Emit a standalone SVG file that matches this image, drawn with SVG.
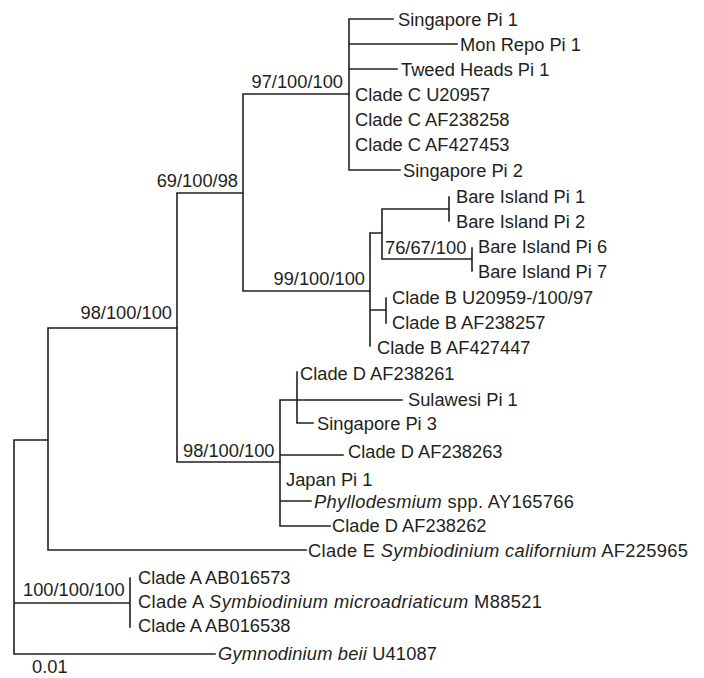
<svg xmlns="http://www.w3.org/2000/svg" width="704" height="678" viewBox="0 0 704 678">
<style>
.e{stroke:#231f20;stroke-width:1.6;fill:none;stroke-linecap:square}
text{font-family:"Liberation Sans",Arial,sans-serif;font-size:18.3px;fill:#231f20}
.s{text-anchor:end}
.i{font-style:italic}
</style>
<rect width="704" height="678" fill="#fff"/>
<g id="connectors">
<path class="e" d="M14 440V654M14 440H48M48 328V550M48 328H177M48 550H306M14 603H130M130 578V627M14 654H215"/>
<path class="e" d="M177 193V462M177 193H243M177 462H280M243 94V291M243 94H349M243 291H370"/>
<path class="e" d="M349 19V170M349 19H393M349 44H457M349 69H397M349 170H400"/>
<path class="e" d="M370 233V346M370 233H382M382 209V259M382 209H449M449 197V221M382 259H472M472 248V271M370 310H386M386 298V323"/>
<path class="e" d="M280 400V526M280 400H402M297 372V423M297 423H313M280 455H343M280 501H311M280 526H330"/>
</g>
<g id="support">
<text class="s" x="343" y="88">97/100/100</text>
<text class="s" x="238" y="187">69/100/98</text>
<text class="s" x="172" y="319">98/100/100</text>
<text class="s" x="365" y="285">99/100/100</text>
<text x="385" y="254">76/67/100</text>
<text x="183" y="457">98/100/100</text>
<text x="23" y="596">100/100/100</text>
<text x="32" y="673">0.01</text>
</g>
<g id="tip-singapore-pi1"><text x="398" y="25.5">Singapore Pi 1</text></g>
<g id="tip-monrepo-pi1"><text x="460" y="50.5">Mon Repo Pi 1</text></g>
<g id="tip-tweed-pi1"><text x="401" y="75.5">Tweed Heads Pi 1</text></g>
<g id="tip-cladec-u20957"><text x="355" y="100.5">Clade C U20957</text></g>
<g id="tip-cladec-af238258"><text x="355" y="125.5">Clade C AF238258</text></g>
<g id="tip-cladec-af427453"><text x="355" y="150.5">Clade C AF427453</text></g>
<g id="tip-singapore-pi2"><text x="403" y="176.5">Singapore Pi 2</text></g>
<g id="tip-bare-pi1"><text x="456" y="202.5">Bare Island Pi 1</text></g>
<g id="tip-bare-pi2"><text x="456" y="227.5">Bare Island Pi 2</text></g>
<g id="tip-bare-pi6"><text x="478" y="252.5">Bare Island Pi 6</text></g>
<g id="tip-bare-pi7"><text x="478" y="277.5">Bare Island Pi 7</text></g>
<g id="tip-cladeb-u20959"><text x="392" y="303.5">Clade B U20959-/100/97</text></g>
<g id="tip-cladeb-af238257"><text x="392" y="328.5">Clade B AF238257</text></g>
<g id="tip-cladeb-af427447"><text x="377" y="353.5">Clade B AF427447</text></g>
<g id="tip-claded-af238261"><text x="300" y="379.5">Clade D AF238261</text></g>
<g id="tip-sulawesi-pi1"><text x="408" y="405.5">Sulawesi Pi 1</text></g>
<g id="tip-singapore-pi3"><text x="317" y="429.5">Singapore Pi 3</text></g>
<g id="tip-claded-af238263"><text x="348" y="457.5">Clade D AF238263</text></g>
<g id="tip-japan-pi1"><text x="286" y="485.5">Japan Pi 1</text></g>
<g id="tip-phyllodesmium"><text x="314" y="507.5" textLength="260"><tspan class="i">Phyllodesmium</tspan> spp. AY165766</text></g>
<g id="tip-claded-af238262"><text x="332" y="531.5">Clade D AF238262</text></g>
<g id="tip-cladee"><text x="308" y="556.5" textLength="380">Clade E <tspan class="i">Symbiodinium californium</tspan> AF225965</text></g>
<g id="tip-cladea-ab016573"><text x="138" y="583.5">Clade A AB016573</text></g>
<g id="tip-cladea-m88521"><text x="138" y="607.5" textLength="404">Clade A <tspan class="i">Symbiodinium microadriaticum</tspan> M88521</text></g>
<g id="tip-cladea-ab016538"><text x="138" y="631.5">Clade A AB016538</text></g>
<g id="tip-gymnodinium"><text x="218" y="659.5" textLength="219"><tspan class="i">Gymnodinium beii</tspan> U41087</text></g>
</svg>
